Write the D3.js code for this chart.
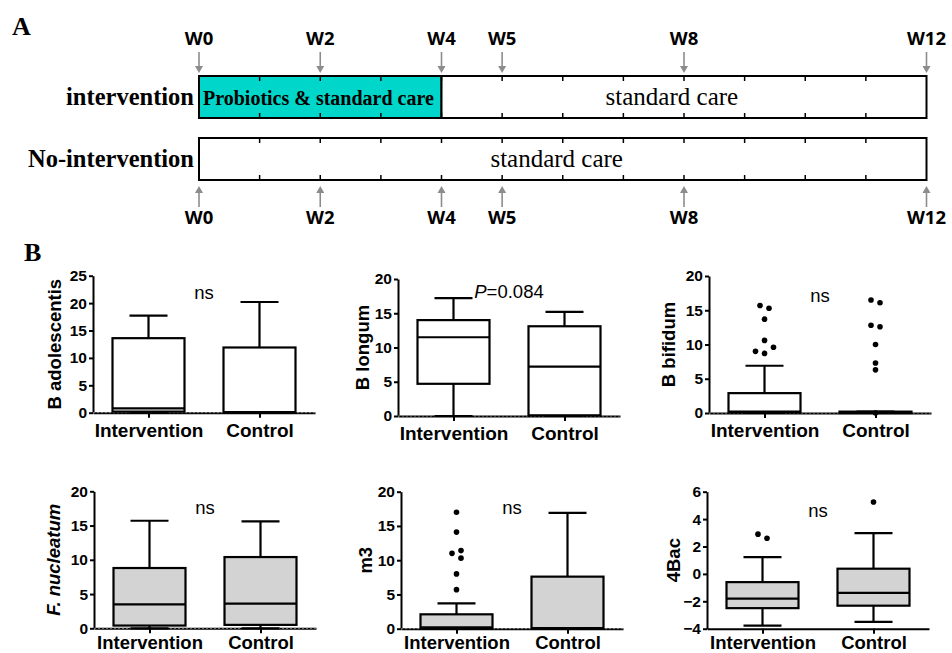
<!DOCTYPE html>
<html>
<head>
<meta charset="utf-8">
<script src="https://cdn.jsdelivr.net/npm/d3@7"></script>
<style>
body { margin: 0; background: #fff; }
svg { display: block; }
</style>
</head>
<body>
<div id="chart-area"></div>
<script>
// ---------------- data ----------------
// panel A: study timeline (weeks)
var weeks = [0, 2, 4, 5, 8, 12];
var weekLabels = weeks.map(function(w) { return "W" + w; });
var armNames = ["intervention", "No-intervention"];
var interventionPhases = [
  {start: 0, end: 4, label: "Probiotics & standard care", labelAt: 1.97},
  {start: 4, end: 12, label: "standard care", labelAt: 7.8}
];
var noInterventionPhases = [
  {start: 0, end: 12, label: "standard care", labelAt: 5.9}
];

// panel B: box plots, [whisker low, Q1, median, Q3, whisker high]
var groups = ["Intervention", "Control"];
var bacteria = ["B adolescentis", "B longum", "B bifidum", "F. nucleatum", "m3", "4Bac"];
var interventionBoxes = [
  [0, 0.2, 0.8, 13.6, 17.7],
  [0, 4.7, 11.5, 14.0, 17.2],
  [0, 0.1, 0.2, 2.9, 6.9],
  [0, 0.4, 3.5, 8.8, 15.7],
  [0, 0, 0.2, 2.1, 3.7],
  [-3.77, -2.5, -1.8, -0.6, 1.23]
];
var controlBoxes = [
  [0, 0, 0.1, 11.9, 20.2],
  [0, 0.1, 7.2, 13.1, 15.2],
  [0, 0, 0.05, 0.2, 0.2],
  [0, 0.5, 3.6, 10.4, 15.6],
  [0, 0, 0.1, 7.6, 16.9],
  [-3.5, -2.32, -1.38, 0.38, 2.97]
];
var interventionOutliers = [
  [], [],
  [8.7, 9.0, 9.6, 10.6, 13.7, 15.3, 15.7],
  [],
  [5.7, 8.0, 10.3, 11.0, 11.4, 14.1, 17.0],
  [2.6, 2.9]
];
var controlOutliers = [
  [], [],
  [0, 6.3, 7.3, 10.0, 12.6, 12.8, 16.1, 16.5],
  [], [],
  [5.25]
];
var yDomains = [[0, 25], [0, 20], [0, 20], [0, 20], [0, 20], [-4, 6]];
var yTickSteps = [5, 5, 5, 5, 5, 2];
var annotations = ["ns", "P=0.084", "ns", "ns", "ns", "ns"];
var annotationAt = [22, 18.3, 17.2, 17.7, 17.7, 4.6];

// ---------------- layout ----------------
var panelLeft = [93, 398, 709, 94, 401, 707];
var panelBottom = [412.7, 416, 413, 628.3, 628.7, 628.7];
var panelHeight = 137, panelWidth = 222;
var titleX = [54, 362, 668, 53, 365, 673];
var titleItalic = [false, false, false, true, false, false];
var boxFill = ["#fff", "#fff", "#fff", "#d3d3d3", "#d3d3d3", "#d3d3d3"];
var labelPad = [5.5, 5.5, 5.5, 2.5, 2.5, 2.5];
var labelSize = [19, 19, 19, 18.5, 18.5, 18.5];
var boxWidth = 72, capWidth = 38;

var cyan = "#00d6c9", arrowGray = "#8c8c8c";
var serif = "'Liberation Serif', 'Times New Roman', serif";
var sans = "'Liberation Sans', Arial, sans-serif";

var svg = d3.select("#chart-area").append("svg")
    .attr("width", 952)
    .attr("height", 653);

svg.append("rect").attr("width", 952).attr("height", 653).attr("fill", "#fff");

// ---------------- panel A ----------------
svg.append("text").attr("x", 12).attr("y", 35)
    .attr("font-family", serif).attr("font-weight", "bold").attr("font-size", 26)
    .text("A");

var x = d3.scaleLinear().domain([0, 12]).range([199, 926.5]);
var rowTop = [76, 138], rowH = 42;
var armPhases = [interventionPhases, noInterventionPhases];

armNames.forEach(function(name, i) {
  var g = svg.append("g");
  var y0 = rowTop[i];

  g.selectAll("rect.phase")
    .data(armPhases[i])
    .enter().append("rect")
    .attr("class", "phase")
    .attr("x", d => x(d.start))
    .attr("y", y0)
    .attr("width", d => x(d.end) - x(d.start))
    .attr("height", rowH)
    .attr("fill", d => d.label.indexOf("Probiotics") === 0 ? cyan : "#fff")
    .attr("stroke", "#000")
    .attr("stroke-width", 2);

  // week ticks on both edges
  var inner = d3.range(1, 12);
  g.selectAll("line.tt").data(inner).enter().append("line")
    .attr("x1", d => x(d)).attr("x2", d => x(d))
    .attr("y1", y0).attr("y2", y0 + 5)
    .attr("stroke", "#000").attr("stroke-width", 1.5);
  g.selectAll("line.tb").data(inner).enter().append("line")
    .attr("x1", d => x(d)).attr("x2", d => x(d))
    .attr("y1", y0 + rowH).attr("y2", y0 + rowH - 5)
    .attr("stroke", "#000").attr("stroke-width", 1.5);

  g.selectAll("text.phase")
    .data(armPhases[i])
    .enter().append("text")
    .attr("x", d => x(d.labelAt))
    .attr("y", y0 + 28.5)
    .attr("text-anchor", "middle")
    .attr("font-family", serif)
    .attr("font-weight", d => d.label.indexOf("Probiotics") === 0 ? "bold" : "normal")
    .attr("font-size", d => d.label.indexOf("Probiotics") === 0 ? 20 : 25)
    .text(d => d.label);

  g.append("text")
    .attr("x", 194).attr("y", y0 + 28.5)
    .attr("text-anchor", "end")
    .attr("font-family", serif).attr("font-weight", "bold").attr("font-size", 24.5)
    .text(name);
});

// week arrows, top (pointing down) and bottom (pointing up)
function drawArrows(tipY, dir, labelY) {
  var g = svg.append("g");
  weeks.forEach(function(w, k) {
    var cx = x(w);
    var tail = tipY - dir * 21;
    var base = tipY - dir * 7;
    g.append("line")
      .attr("x1", cx).attr("x2", cx)
      .attr("y1", tail).attr("y2", base)
      .attr("stroke", arrowGray).attr("stroke-width", 1.6);
    g.append("path")
      .attr("d", "M" + (cx - 4) + "," + base + "L" + (cx + 4) + "," + base + "L" + cx + "," + tipY + "Z")
      .attr("fill", arrowGray);
    g.append("text")
      .attr("x", cx).attr("y", labelY)
      .attr("text-anchor", "middle")
      .attr("font-family", "'Open Sans', sans-serif")
      .attr("font-weight", "bold").attr("font-size", 18.5)
      .text(weekLabels[k]);
  });
}
drawArrows(73, 1, 45);
drawArrows(186, -1, 224);

// ---------------- panel B ----------------
svg.append("text").attr("x", 24).attr("y", 261)
    .attr("font-family", serif).attr("font-weight", "bold").attr("font-size", 26)
    .text("B");

function placeOutliers(values, y, cx) {
  var step = 9, dmin = 6.5;
  var placed = [];
  values.slice().sort(d3.ascending).forEach(function(v) {
    var py = y(v);
    var offs = [0, -step, step, -2 * step, 2 * step];
    for (var k = 0; k < offs.length; k++) {
      var px = cx + offs[k];
      var hit = placed.some(p => Math.hypot(p.x - px, p.y - py) < dmin);
      if (!hit) { placed.push({x: px, y: py, off: offs[k]}); break; }
    }
  });
  // centre clusters that were pushed sideways
  var clusters = [], cur = [];
  placed.forEach(function(p, k) {
    if (k > 0 && Math.abs(p.y - placed[k - 1].y) >= dmin) { clusters.push(cur); cur = []; }
    cur.push(p);
  });
  if (cur.length) clusters.push(cur);
  clusters.forEach(function(c) {
    var lo = d3.min(c, p => p.off), hi = d3.max(c, p => p.off);
    var shift = -(lo + hi) / 2;
    c.forEach(p => { p.x += shift; });
  });
  return placed;
}

bacteria.forEach(function(name, i) {
  var left = panelLeft[i], bottom = panelBottom[i];
  var dom = yDomains[i];
  var g = svg.append("g");

  var y = d3.scaleLinear().domain(dom).range([bottom, bottom - panelHeight]);
  var xs = d3.scalePoint().domain(groups).range([left, left + panelWidth]).padding(0.5);

  var yAxis = d3.axisLeft(y)
      .tickValues(d3.range(dom[0], dom[1] + 0.001, yTickSteps[i]))
      .tickSize(4).tickSizeOuter(0).tickPadding(2)
      .tickFormat(d3.format("d"));
  var xAxis = d3.axisBottom(xs).tickSize(5).tickSizeOuter(0).tickPadding(labelPad[i]);

  var yg = g.append("g").attr("transform", "translate(" + left + ",0)").call(yAxis);
  var xg = g.append("g").attr("transform", "translate(0," + y(dom[0]) + ")").call(xAxis);

  [yg, xg].forEach(function(ax) {
    ax.select(".domain").attr("stroke", "#000").attr("stroke-width", 2);
    ax.selectAll(".tick line").attr("stroke", "#000").attr("stroke-width", 2);
    ax.selectAll("text").attr("fill", "#000").attr("font-family", sans).attr("font-weight", "bold");
  });
  yg.selectAll("text").attr("font-size", 15.5);
  xg.selectAll("text").attr("font-size", labelSize[i]);

  // dotted look of the zero baseline
  if (dom[0] === 0) {
    g.append("line")
      .attr("x1", left).attr("x2", left + panelWidth)
      .attr("y1", y(0)).attr("y2", y(0))
      .attr("stroke", "#9a9a9a").attr("stroke-width", 0.8)
      .attr("stroke-dasharray", "2,2");
  }

  var boxes = [interventionBoxes[i], controlBoxes[i]];
  var outs = [interventionOutliers[i], controlOutliers[i]];

  groups.forEach(function(grp, j) {
    var b = boxes[j], cx = xs(grp);
    var bg = g.append("g").attr("stroke", "#000").attr("stroke-width", 2.2);
    // whiskers
    bg.append("line").attr("x1", cx).attr("x2", cx).attr("y1", y(b[3])).attr("y2", y(b[4]));
    bg.append("line").attr("x1", cx).attr("x2", cx).attr("y1", y(b[1])).attr("y2", y(b[0]));
    bg.append("line").attr("x1", cx - capWidth / 2).attr("x2", cx + capWidth / 2).attr("y1", y(b[4])).attr("y2", y(b[4]));
    bg.append("line").attr("x1", cx - capWidth / 2).attr("x2", cx + capWidth / 2).attr("y1", y(b[0])).attr("y2", y(b[0]));
    // box
    bg.append("rect")
      .attr("x", cx - boxWidth / 2).attr("width", boxWidth)
      .attr("y", y(b[3])).attr("height", Math.max(0.5, y(b[1]) - y(b[3])))
      .attr("fill", boxFill[i]);
    bg.append("line").attr("x1", cx - boxWidth / 2).attr("x2", cx + boxWidth / 2).attr("y1", y(b[2])).attr("y2", y(b[2]));

    g.selectAll(null)
      .data(placeOutliers(outs[j], y, cx))
      .enter().append("circle")
      .attr("cx", d => d.x).attr("cy", d => d.y).attr("r", 2.8)
      .attr("fill", "#000");
  });

  // y title
  g.append("text")
    .attr("transform", "translate(" + titleX[i] + "," + (bottom - panelHeight / 2) + ") rotate(-90)")
    .attr("text-anchor", "middle").attr("dominant-baseline", "central")
    .attr("font-family", sans).attr("font-weight", "bold").attr("font-size", 18.5)
    .attr("font-style", titleItalic[i] ? "italic" : "normal")
    .text(name);

  // significance annotation
  var ann = g.append("text")
    .attr("x", (xs(groups[0]) + xs(groups[1])) / 2)
    .attr("y", y(annotationAt[i]))
    .attr("text-anchor", "middle").attr("dominant-baseline", "central")
    .attr("font-family", sans).attr("font-size", 18.5);
  if (annotations[i].charAt(0) === "P") {
    ann.append("tspan").attr("font-style", "italic").text("P");
    ann.append("tspan").text(annotations[i].slice(1));
  } else {
    ann.text(annotations[i]);
  }
});
</script>
</body>
</html>
